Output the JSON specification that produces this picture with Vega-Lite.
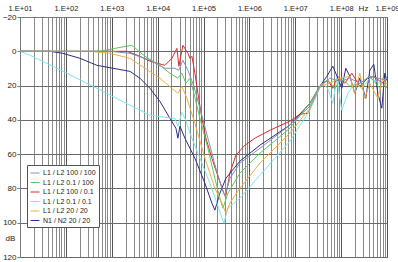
{
  "$schema": "https://vega.github.io/schema/vega-lite/v6.json",
  "autosize": {"type": "none"},
  "padding": {"left": 20, "top": 17, "right": 11, "bottom": 5},
  "width": 367,
  "height": 240,
  "background": "white",
  "config": {
    "font": "Liberation Sans",
    "view": {"stroke": "#7a7a7a", "strokeWidth": 1},
    "axis": {"labelFont": "Liberation Sans", "labelFontSize": 8, "labelColor": "#222", "titleFont": "Liberation Sans", "titleFontSize": 8, "titleFontWeight": "normal", "titleColor": "#222", "domainColor": "#7a7a7a", "tickColor": "#7a7a7a", "gridOpacity": 1},
    "legend": {"labelFont": "Liberation Sans"}
  },
  "data": {"values": [
    {"s": "L1 / L2 100 / 0.1", "f": 10, "db": 0},
    {"s": "L1 / L2 100 / 0.1", "f": 74, "db": 0},
    {"s": "L1 / L2 100 / 0.1", "f": 553, "db": 0},
    {"s": "L1 / L2 100 / 0.1", "f": 2145, "db": 0},
    {"s": "L1 / L2 100 / 0.1", "f": 4114, "db": 2.9},
    {"s": "L1 / L2 100 / 0.1", "f": 6797, "db": 5.8},
    {"s": "L1 / L2 100 / 0.1", "f": 14420, "db": 8.2},
    {"s": "L1 / L2 100 / 0.1", "f": 20500, "db": 4.1},
    {"s": "L1 / L2 100 / 0.1", "f": 26320, "db": -1.7},
    {"s": "L1 / L2 100 / 0.1", "f": 29100, "db": 8.7},
    {"s": "L1 / L2 100 / 0.1", "f": 35560, "db": -3.5},
    {"s": "L1 / L2 100 / 0.1", "f": 45710, "db": 1.2},
    {"s": "L1 / L2 100 / 0.1", "f": 50580, "db": 4.1},
    {"s": "L1 / L2 100 / 0.1", "f": 55850, "db": 2.9},
    {"s": "L1 / L2 100 / 0.1", "f": 65010, "db": 12.8},
    {"s": "L1 / L2 100 / 0.1", "f": 75510, "db": 24.5},
    {"s": "L1 / L2 100 / 0.1", "f": 92250, "db": 39.1},
    {"s": "L1 / L2 100 / 0.1", "f": 112800, "db": 50.7},
    {"s": "L1 / L2 100 / 0.1", "f": 152400, "db": 62.4},
    {"s": "L1 / L2 100 / 0.1", "f": 206100, "db": 72.9},
    {"s": "L1 / L2 100 / 0.1", "f": 278000, "db": 82.8},
    {"s": "L1 / L2 100 / 0.1", "f": 307600, "db": 84.0},
    {"s": "L1 / L2 100 / 0.1", "f": 375800, "db": 71.1},
    {"s": "L1 / L2 100 / 0.1", "f": 508200, "db": 60.6},
    {"s": "L1 / L2 100 / 0.1", "f": 798000, "db": 54.8},
    {"s": "L1 / L2 100 / 0.1", "f": 1318000, "db": 50.7},
    {"s": "L1 / L2 100 / 0.1", "f": 2799000, "db": 46.1},
    {"s": "L1 / L2 100 / 0.1", "f": 7621000, "db": 40.8},
    {"s": "L1 / L2 100 / 0.1", "f": 12590000, "db": 36.7},
    {"s": "L1 / L2 100 / 0.1", "f": 18840000, "db": 36.2},
    {"s": "L1 / L2 100 / 0.1", "f": 26730000, "db": 27.4},
    {"s": "L1 / L2 100 / 0.1", "f": 38020000, "db": 18.7},
    {"s": "L1 / L2 100 / 0.1", "f": 51300000, "db": 16.9},
    {"s": "L1 / L2 100 / 0.1", "f": 65920000, "db": 21.6},
    {"s": "L1 / L2 100 / 0.1", "f": 84720000, "db": 14.6},
    {"s": "L1 / L2 100 / 0.1", "f": 120500000, "db": 18.7},
    {"s": "L1 / L2 100 / 0.1", "f": 171000000, "db": 12.8},
    {"s": "L1 / L2 100 / 0.1", "f": 255300000, "db": 20.4},
    {"s": "L1 / L2 100 / 0.1", "f": 381900000, "db": 15.7},
    {"s": "L1 / L2 100 / 0.1", "f": 542000000, "db": 14.6},
    {"s": "L1 / L2 100 / 0.1", "f": 770900000, "db": 18.7},
    {"s": "L1 / L2 100 / 0.1", "f": 990800000, "db": 15.7},

    {"s": "N1 / N2 20 / 20", "f": 10, "db": 0},
    {"s": "N1 / N2 20 / 20", "f": 45, "db": 0},
    {"s": "N1 / N2 20 / 20", "f": 86, "db": 1.2},
    {"s": "N1 / N2 20 / 20", "f": 203, "db": 4.1},
    {"s": "N1 / N2 20 / 20", "f": 476, "db": 8.2},
    {"s": "N1 / N2 20 / 20", "f": 1060, "db": 9.9},
    {"s": "N1 / N2 20 / 20", "f": 2493, "db": 11.7},
    {"s": "N1 / N2 20 / 20", "f": 4114, "db": 15.7},
    {"s": "N1 / N2 20 / 20", "f": 6797, "db": 21.6},
    {"s": "N1 / N2 20 / 20", "f": 11220, "db": 29.2},
    {"s": "N1 / N2 20 / 20", "f": 18540, "db": 39.1},
    {"s": "N1 / N2 20 / 20", "f": 25060, "db": 44.9},
    {"s": "N1 / N2 20 / 20", "f": 27680, "db": 50.7},
    {"s": "N1 / N2 20 / 20", "f": 30600, "db": 43.7},
    {"s": "N1 / N2 20 / 20", "f": 39360, "db": 50.7},
    {"s": "N1 / N2 20 / 20", "f": 65010, "db": 62.4},
    {"s": "N1 / N2 20 / 20", "f": 107400, "db": 77.0},
    {"s": "N1 / N2 20 / 20", "f": 152400, "db": 88.6},
    {"s": "N1 / N2 20 / 20", "f": 177000, "db": 92.7},
    {"s": "N1 / N2 20 / 20", "f": 227500, "db": 82.8},
    {"s": "N1 / N2 20 / 20", "f": 307600, "db": 74.1},
    {"s": "N1 / N2 20 / 20", "f": 620900, "db": 64.1},
    {"s": "N1 / N2 20 / 20", "f": 1694000, "db": 54.8},
    {"s": "N1 / N2 20 / 20", "f": 7621000, "db": 43.1},
    {"s": "N1 / N2 20 / 20", "f": 20800000, "db": 30.3},
    {"s": "N1 / N2 20 / 20", "f": 34360000, "db": 20.4},
    {"s": "N1 / N2 20 / 20", "f": 48870000, "db": 14.6},
    {"s": "N1 / N2 20 / 20", "f": 65920000, "db": 8.7},
    {"s": "N1 / N2 20 / 20", "f": 84720000, "db": 15.7},
    {"s": "N1 / N2 20 / 20", "f": 103500000, "db": 21.6},
    {"s": "N1 / N2 20 / 20", "f": 126500000, "db": 9.9},
    {"s": "N1 / N2 20 / 20", "f": 154900000, "db": 14.6},
    {"s": "N1 / N2 20 / 20", "f": 198600000, "db": 24.5},
    {"s": "N1 / N2 20 / 20", "f": 255300000, "db": 15.7},
    {"s": "N1 / N2 20 / 20", "f": 345100000, "db": 27.4},
    {"s": "N1 / N2 20 / 20", "f": 421700000, "db": 11.1},
    {"s": "N1 / N2 20 / 20", "f": 515200000, "db": 7.6},
    {"s": "N1 / N2 20 / 20", "f": 631000000, "db": 24.5},
    {"s": "N1 / N2 20 / 20", "f": 770900000, "db": 33.2},
    {"s": "N1 / N2 20 / 20", "f": 895400000, "db": 12.8},
    {"s": "N1 / N2 20 / 20", "f": 990800000, "db": 16.9},

    {"s": "L1 / L2 0.1 / 0.1", "f": 10, "db": 0},
    {"s": "L1 / L2 0.1 / 0.1", "f": 16.5, "db": 2.3},
    {"s": "L1 / L2 0.1 / 0.1", "f": 64, "db": 9.9},
    {"s": "L1 / L2 0.1 / 0.1", "f": 476, "db": 21.6},
    {"s": "L1 / L2 0.1 / 0.1", "f": 2493, "db": 31.5},
    {"s": "L1 / L2 0.1 / 0.1", "f": 6797, "db": 37.3},
    {"s": "L1 / L2 0.1 / 0.1", "f": 14420, "db": 38.5},
    {"s": "L1 / L2 0.1 / 0.1", "f": 23830, "db": 39.1},
    {"s": "L1 / L2 0.1 / 0.1", "f": 27680, "db": 43.7},
    {"s": "L1 / L2 0.1 / 0.1", "f": 33810, "db": 35.6},
    {"s": "L1 / L2 0.1 / 0.1", "f": 41400, "db": 40.2},
    {"s": "L1 / L2 0.1 / 0.1", "f": 50580, "db": 47.8},
    {"s": "L1 / L2 0.1 / 0.1", "f": 83560, "db": 62.4},
    {"s": "L1 / L2 0.1 / 0.1", "f": 137700, "db": 77.0},
    {"s": "L1 / L2 0.1 / 0.1", "f": 206100, "db": 90.4},
    {"s": "L1 / L2 0.1 / 0.1", "f": 278000, "db": 100.3},
    {"s": "L1 / L2 0.1 / 0.1", "f": 340400, "db": 91.5},
    {"s": "L1 / L2 0.1 / 0.1", "f": 620900, "db": 85.7},
    {"s": "L1 / L2 0.1 / 0.1", "f": 1694000, "db": 72.3},
    {"s": "L1 / L2 0.1 / 0.1", "f": 7621000, "db": 52.5},
    {"s": "L1 / L2 0.1 / 0.1", "f": 20800000, "db": 34.4},
    {"s": "L1 / L2 0.1 / 0.1", "f": 38020000, "db": 18.7},
    {"s": "L1 / L2 0.1 / 0.1", "f": 51300000, "db": 21.6},
    {"s": "L1 / L2 0.1 / 0.1", "f": 65920000, "db": 30.3},
    {"s": "L1 / L2 0.1 / 0.1", "f": 80540000, "db": 15.7},
    {"s": "L1 / L2 0.1 / 0.1", "f": 103500000, "db": 34.4},
    {"s": "L1 / L2 0.1 / 0.1", "f": 140000000, "db": 24.5},
    {"s": "L1 / L2 0.1 / 0.1", "f": 198600000, "db": 18.7},
    {"s": "L1 / L2 0.1 / 0.1", "f": 282500000, "db": 21.6},
    {"s": "L1 / L2 0.1 / 0.1", "f": 421700000, "db": 15.7},
    {"s": "L1 / L2 0.1 / 0.1", "f": 696600000, "db": 18.7},
    {"s": "L1 / L2 0.1 / 0.1", "f": 990800000, "db": 15.7},

    {"s": "L1 / L2 0.1 / 100", "f": 10, "db": 0},
    {"s": "L1 / L2 0.1 / 100", "f": 553, "db": 0},
    {"s": "L1 / L2 0.1 / 100", "f": 1175, "db": -1.7},
    {"s": "L1 / L2 0.1 / 100", "f": 2754, "db": -3.5},
    {"s": "L1 / L2 0.1 / 100", "f": 5287, "db": 2.9},
    {"s": "L1 / L2 0.1 / 100", "f": 11220, "db": 8.2},
    {"s": "L1 / L2 0.1 / 100", "f": 18540, "db": 12.8},
    {"s": "L1 / L2 0.1 / 100", "f": 27680, "db": 15.7},
    {"s": "L1 / L2 0.1 / 100", "f": 33810, "db": 12.8},
    {"s": "L1 / L2 0.1 / 100", "f": 41400, "db": 18.7},
    {"s": "L1 / L2 0.1 / 100", "f": 50580, "db": 15.7},
    {"s": "L1 / L2 0.1 / 100", "f": 61800, "db": 24.5},
    {"s": "L1 / L2 0.1 / 100", "f": 83560, "db": 39.1},
    {"s": "L1 / L2 0.1 / 100", "f": 124700, "db": 56.6},
    {"s": "L1 / L2 0.1 / 100", "f": 177000, "db": 74.1},
    {"s": "L1 / L2 0.1 / 100", "f": 227500, "db": 85.7},
    {"s": "L1 / L2 0.1 / 100", "f": 264800, "db": 91.5},
    {"s": "L1 / L2 0.1 / 100", "f": 340400, "db": 82.8},
    {"s": "L1 / L2 0.1 / 100", "f": 620900, "db": 71.1},
    {"s": "L1 / L2 0.1 / 100", "f": 1694000, "db": 59.5},
    {"s": "L1 / L2 0.1 / 100", "f": 7621000, "db": 44.9},
    {"s": "L1 / L2 0.1 / 100", "f": 20800000, "db": 30.3},
    {"s": "L1 / L2 0.1 / 100", "f": 34360000, "db": 20.4},
    {"s": "L1 / L2 0.1 / 100", "f": 51300000, "db": 16.9},
    {"s": "L1 / L2 0.1 / 100", "f": 72950000, "db": 21.6},
    {"s": "L1 / L2 0.1 / 100", "f": 103500000, "db": 15.7},
    {"s": "L1 / L2 0.1 / 100", "f": 154900000, "db": 20.4},
    {"s": "L1 / L2 0.1 / 100", "f": 255300000, "db": 18.7},
    {"s": "L1 / L2 0.1 / 100", "f": 421700000, "db": 14.6},
    {"s": "L1 / L2 0.1 / 100", "f": 696600000, "db": 21.6},
    {"s": "L1 / L2 0.1 / 100", "f": 990800000, "db": 18.7},

    {"s": "L1 / L2 20 / 20", "f": 10, "db": 0},
    {"s": "L1 / L2 20 / 20", "f": 335, "db": 0},
    {"s": "L1 / L2 20 / 20", "f": 915, "db": 1.2},
    {"s": "L1 / L2 20 / 20", "f": 2493, "db": 4.1},
    {"s": "L1 / L2 20 / 20", "f": 5287, "db": 9.9},
    {"s": "L1 / L2 20 / 20", "f": 11220, "db": 15.7},
    {"s": "L1 / L2 20 / 20", "f": 20500, "db": 21.6},
    {"s": "L1 / L2 20 / 20", "f": 27680, "db": 24.5},
    {"s": "L1 / L2 20 / 20", "f": 33810, "db": 20.4},
    {"s": "L1 / L2 20 / 20", "f": 43450, "db": 27.4},
    {"s": "L1 / L2 20 / 20", "f": 65010, "db": 42.0},
    {"s": "L1 / L2 20 / 20", "f": 107400, "db": 62.4},
    {"s": "L1 / L2 20 / 20", "f": 177000, "db": 79.9},
    {"s": "L1 / L2 20 / 20", "f": 251800, "db": 88.6},
    {"s": "L1 / L2 20 / 20", "f": 307600, "db": 94.5},
    {"s": "L1 / L2 20 / 20", "f": 375800, "db": 88.6},
    {"s": "L1 / L2 20 / 20", "f": 620900, "db": 79.9},
    {"s": "L1 / L2 20 / 20", "f": 1694000, "db": 65.3},
    {"s": "L1 / L2 20 / 20", "f": 7621000, "db": 47.8},
    {"s": "L1 / L2 20 / 20", "f": 20800000, "db": 33.2},
    {"s": "L1 / L2 20 / 20", "f": 34360000, "db": 20.4},
    {"s": "L1 / L2 20 / 20", "f": 56750000, "db": 18.7},
    {"s": "L1 / L2 20 / 20", "f": 93760000, "db": 15.7},
    {"s": "L1 / L2 20 / 20", "f": 154900000, "db": 14.6},
    {"s": "L1 / L2 20 / 20", "f": 198600000, "db": 24.5},
    {"s": "L1 / L2 20 / 20", "f": 255300000, "db": 12.8},
    {"s": "L1 / L2 20 / 20", "f": 328100000, "db": 27.4},
    {"s": "L1 / L2 20 / 20", "f": 421700000, "db": 18.7},
    {"s": "L1 / L2 20 / 20", "f": 631000000, "db": 27.4},
    {"s": "L1 / L2 20 / 20", "f": 809100000, "db": 15.7},
    {"s": "L1 / L2 20 / 20", "f": 990800000, "db": 21.6},

    {"s": "L1 / L2 100 / 100", "f": 10, "db": 0},
    {"s": "L1 / L2 100 / 100", "f": 915, "db": 0},
    {"s": "L1 / L2 100 / 100", "f": 2493, "db": 1.2},
    {"s": "L1 / L2 100 / 100", "f": 6797, "db": 5.2},
    {"s": "L1 / L2 100 / 100", "f": 14420, "db": 9.9},
    {"s": "L1 / L2 100 / 100", "f": 23830, "db": 9.9},
    {"s": "L1 / L2 100 / 100", "f": 29100, "db": 11.1},
    {"s": "L1 / L2 100 / 100", "f": 35560, "db": 5.2},
    {"s": "L1 / L2 100 / 100", "f": 45710, "db": 11.1},
    {"s": "L1 / L2 100 / 100", "f": 61800, "db": 20.4},
    {"s": "L1 / L2 100 / 100", "f": 83560, "db": 33.2},
    {"s": "L1 / L2 100 / 100", "f": 124700, "db": 50.7},
    {"s": "L1 / L2 100 / 100", "f": 186200, "db": 68.2},
    {"s": "L1 / L2 100 / 100", "f": 251800, "db": 79.9},
    {"s": "L1 / L2 100 / 100", "f": 292400, "db": 84.5},
    {"s": "L1 / L2 100 / 100", "f": 375800, "db": 74.1},
    {"s": "L1 / L2 100 / 100", "f": 620900, "db": 65.3},
    {"s": "L1 / L2 100 / 100", "f": 1694000, "db": 56.6},
    {"s": "L1 / L2 100 / 100", "f": 7621000, "db": 43.1},
    {"s": "L1 / L2 100 / 100", "f": 20800000, "db": 32.1},
    {"s": "L1 / L2 100 / 100", "f": 34360000, "db": 20.4},
    {"s": "L1 / L2 100 / 100", "f": 56750000, "db": 15.7},
    {"s": "L1 / L2 100 / 100", "f": 93760000, "db": 17.5},
    {"s": "L1 / L2 100 / 100", "f": 154900000, "db": 15.7},
    {"s": "L1 / L2 100 / 100", "f": 255300000, "db": 18.7},
    {"s": "L1 / L2 100 / 100", "f": 421700000, "db": 14.6},
    {"s": "L1 / L2 100 / 100", "f": 990800000, "db": 16.9}
  ]},
  "mark": {"type": "line", "strokeWidth": 1, "clip": true},
  "encoding": {
    "x": {
      "field": "f", "type": "quantitative",
      "scale": {"type": "log", "domain": [10, 1000000000], "nice": false},
      "axis": {
        "orient": "top", "title": "Hz", "titleAngle": 0, "titleX": 343, "titleY": -9, "titleBaseline": "middle", "titleAlign": "center",
        "values": [10,20,30,40,50,60,70,80,90,100,200,300,400,500,600,700,800,900,1000,2000,3000,4000,5000,6000,7000,8000,9000,10000,20000,30000,40000,50000,60000,70000,80000,90000,100000,200000,300000,400000,500000,600000,700000,800000,900000,1000000,2000000,3000000,4000000,5000000,6000000,7000000,8000000,9000000,10000000,20000000,30000000,40000000,50000000,60000000,70000000,80000000,90000000,100000000,200000000,300000000,400000000,500000000,600000000,700000000,800000000,900000000,1000000000],
        "labelExpr": "datum.value == pow(10, round(log(datum.value)/LN10)) ? '1.E+0' + round(log(datum.value)/LN10) : ''",
        "labelOverlap": false, "labelFlush": false, "labelPadding": 5, "labelFontSize": 7.5,
        "ticks": true, "tickSize": 0,
        "grid": true, "gridWidth": 1,
        "gridColor": {"condition": {"test": "datum.value == pow(10, round(log(datum.value)/LN10))", "value": "#555555"}, "value": "#8a8a8a"}
      }
    },
    "y": {
      "field": "db", "type": "quantitative",
      "scale": {"domain": [-20, 120], "reverse": true, "nice": false, "zero": false},
      "axis": {
        "values": [-20, 0, 20, 40, 60, 80, 100, 120],
        "title": "dB", "titleAngle": 0, "titleX": -10, "titleY": 221, "titleAlign": "center", "titleBaseline": "middle",
        "tickSize": 3, "labelPadding": 1, "grid": true, "gridColor": "#6a6a6a", "gridWidth": 1
      }
    },
    "color": {
      "field": "s", "type": "nominal",
      "scale": {
        "domain": ["L1 / L2 100 / 100", "L1 / L2 0.1 / 100", "L1 / L2 100 / 0.1", "L1 / L2 0.1 / 0.1", "L1 / L2 20 / 20", "N1 / N2 20 / 20"],
        "range": ["#8292b4", "#5cc85c", "#dd2a2a", "#7ee6ee", "#f0b040", "#2c2c86"]
      },
      "legend": {
        "orient": "none", "legendX": 7, "legendY": 148, "title": null,
        "fillColor": "white", "strokeColor": "#555555", "padding": 3,
        "labelFontSize": 7, "labelColor": "#222", "symbolType": "stroke", "symbolSize": 80, "symbolStrokeWidth": 1,
        "rowPadding": 1.5, "labelOffset": 3, "labelLimit": 120
      }
    }
  }
}
